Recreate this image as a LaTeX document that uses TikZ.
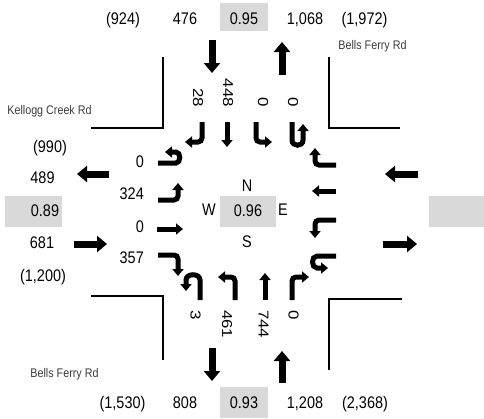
\documentclass[tikz,border=0pt]{standalone}
\usepackage{fontspec}
\setmainfont{Liberation Sans}
\newfontfamily\hfont[FakeStretch=0.86]{Liberation Sans}
\newfontfamily\vfont[FakeStretch=1.17]{Liberation Sans}
\usetikzlibrary{arrows.meta}
\definecolor{boxgray}{RGB}{217,217,217}
\definecolor{roadgray}{RGB}{60,60,60}
\tikzset{
 num/.style={font=\hfont\fontsize{16.8}{18}\selectfont, inner sep=0pt, anchor=base},
 lanev/.style={font=\vfont\fontsize{14.4}{16}\selectfont, inner sep=0pt, rotate=-90},
 road/.style={font=\hfont\fontsize{12.5}{14}\selectfont, text=roadgray, inner sep=0pt, anchor=base},
 bigarrow/.style={line width=7pt, -{Triangle[width=16pt,length=10pt]}},
 turnarrow/.style={line width=5pt, rounded corners=4pt, -{Triangle[width=11pt,length=7pt]}},
 curb/.style={line width=2pt},
 pbox/.style={fill=boxgray, draw=none}
}
\begin{document}
\begin{tikzpicture}[x=1pt,y=-1pt]
\useasboundingbox (0,0) rectangle (484,418);
% gray boxes
\fill[pbox] (220,3) rectangle (268,31);
\fill[pbox] (220,387) rectangle (268,418);
\fill[pbox] (220,196) rectangle (276,227);
\fill[pbox] (5,196) rectangle (62,227);
\fill[pbox] (429,196) rectangle (484,227);
% top row
\node[num] (t1) at (123,24) {(924)};
\node[num] (t2) at (185,24) {476};
\node[num] (t3) at (244,24) {0.95};
\node[num] (t4) at (305,24) {1,068};
\node[num] (t5) at (364.5,24) {(1,972)};
% bottom row
\node[num] (b1) at (122.5,408) {(1,530)};
\node[num] (b2) at (185,408) {808};
\node[num] (b3) at (244,408) {0.93};
\node[num] (b4) at (305,408) {1,208};
\node[num] (b5) at (365,408) {(2,368)};
% west column
\node[num] (w1) at (50,152) {(990)};
\node[num] (w2) at (42.5,183) {489};
\node[num] (w3) at (45,216) {0.89};
\node[num] (w4) at (42,248) {681};
\node[num] (w5) at (43,281) {(1,200)};
% west lane numbers
\node[num, anchor=base east] (wl1) at (144,167) {0};
\node[num, anchor=base east] (wl2) at (144,199) {324};
\node[num, anchor=base east] (wl3) at (144,232) {0};
\node[num, anchor=base east] (wl4) at (144,263) {357};
% center
\node[num] (cN) at (247,191) {N};
\node[num] (cW) at (209,215) {W};
\node[num] (cV) at (248,216) {0.96};
\node[num] (cE) at (283,215) {E};
\node[num] (cS) at (247,247) {S};
% road names
\node[road] (r1) at (372.5,49) {Bells Ferry Rd};
\node[road] (r2) at (49.5,114) {Kellogg Creek Rd};
\node[road] (r3) at (64.5,377) {Bells Ferry Rd};
% top lane numbers (rotated)
\node[lanev, anchor=east] (n1) at (198,107) {28};
\node[lanev, anchor=east] (n2) at (228,107) {448};
\node[lanev, anchor=east] (n3) at (263,107) {0};
\node[lanev, anchor=east] (n4) at (293,107) {0};
% bottom lane numbers (rotated)
\node[lanev, anchor=west] (s1) at (195.5,310) {3};
\node[lanev, anchor=west] (s2) at (227,310) {461};
\node[lanev, anchor=west] (s3) at (263.5,310) {744};
\node[lanev, anchor=west] (s4) at (293.5,310) {0};
% curbs
\draw[curb] (163,57) -- (163,128) -- (91,128);
\draw[curb] (329,57) -- (329,128) -- (400,128);
\draw[curb] (91,296) -- (163,296) -- (163,360);
\draw[curb] (402,299) -- (329,299) -- (329,370);
% big approach/departure arrows
\draw[bigarrow] (212,40) -- (212,73);
\draw[bigarrow] (282,75) -- (282,42);
\draw[bigarrow] (212,348) -- (212,381);
\draw[bigarrow] (282,383) -- (282,351);
\draw[bigarrow] (109,174) -- (77,174);
\draw[bigarrow] (74,244) -- (107,244);
\draw[bigarrow] (418,174) -- (385,174);
\draw[bigarrow] (383,244) -- (417,244);
% southbound turn arrows
\draw[turnarrow] (202,122) -- (202,142) -- (185,142);
\draw[turnarrow] (227,122) -- (227,147);
\draw[turnarrow] (256,122) -- (256,142) -- (272,142);
\draw[turnarrow] (292,122) -- (292,136) .. controls (292,147) and (303,147) .. (303,136) -- (303,124);
% eastbound turn arrows
\draw[turnarrow] (158,163) -- (172,163) .. controls (181,163) and (181,152) .. (172,152) -- (165,152);
\draw[turnarrow] (158,200) -- (178,200) -- (178,183);
\draw[turnarrow] (157,229) -- (183,229);
\draw[turnarrow] (158,255) -- (178,255) -- (178,276);
% northbound turn arrows
\draw[turnarrow] (200,300) -- (200,284) .. controls (200,273) and (186,273) .. (186,284) -- (186,291);
\draw[turnarrow] (235,300) -- (235,277) -- (218,277);
\draw[turnarrow] (265,300) -- (265,273);
\draw[turnarrow] (292,300) -- (292,277) -- (309,277);
% westbound turn arrows
\draw[turnarrow] (336,165) -- (315,165) -- (315,148);
\draw[turnarrow] (336,191) -- (312,191);
\draw[turnarrow] (336,220) -- (315,220) -- (315,238);
\draw[turnarrow] (336,256) -- (321,256) .. controls (311,256) and (311,268) .. (321,268) -- (328,268);
\end{tikzpicture}
\end{document}
